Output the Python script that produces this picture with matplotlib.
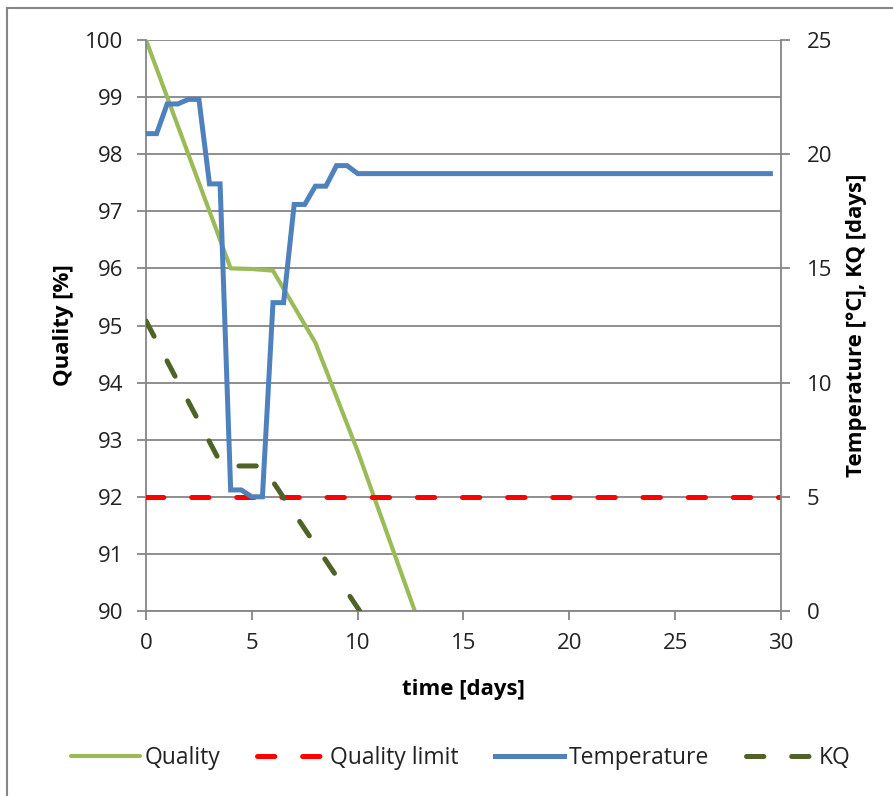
import matplotlib
matplotlib.use("Agg")
import matplotlib.pyplot as plt
from matplotlib.lines import Line2D

plt.rcParams['font.family'] = ['Open Sans', 'DejaVu Sans']
plt.rcParams['lines.scale_dashes'] = False

# ---- data ----
quality_days = [0, 1, 2, 3, 4, 5, 6, 8, 10, 12.7]
quality_vals = [100, 99, 98, 97, 96.0, 95.99, 95.96, 94.7, 92.8, 90.0]

limit_days = [0, 30]
limit_vals = [92, 92]

temp_days = [0, 0.5, 1, 1.5, 2, 2.5, 3, 3.5, 4, 4.5, 5, 5.5, 6, 6.5, 7, 7.5,
             8, 8.5, 9, 9.5, 10, 29.5]
temp_vals = [20.9, 20.9, 22.2, 22.2, 22.4, 22.4, 18.7, 18.7, 5.3, 5.3, 5.0, 5.0,
             13.5, 13.5, 17.8, 17.8, 18.6, 18.6, 19.5, 19.5, 19.15, 19.15]

kq_days = [0, 3.6, 4, 5.5, 10.1]
kq_vals = [12.7, 6.35, 6.35, 6.35, 0.0]

x_ticks = [0, 5, 10, 15, 20, 25, 30]
left_ticks = [90, 91, 92, 93, 94, 95, 96, 97, 98, 99, 100]
right_ticks = [0, 5, 10, 15, 20, 25]

# ---- styles ----
GRAY = '#868686'
GREEN = '#9BBB59'
RED = '#FF0000'
BLUE = '#4F81BD'
OLIVE = '#4F6228'

fig = plt.figure(figsize=(8.93, 7.96), dpi=100)
ax = fig.add_axes([146/893, 1-611/796, (781-146)/893, (611-40)/796])
ax2 = ax.twinx()

ax.set_xlim(0, 30)
ax.set_ylim(90, 100)
ax2.set_ylim(0, 25)

ax.set_yticks(left_ticks)
ax.set_xticks(x_ticks)
ax2.set_yticks(right_ticks)

ax.yaxis.grid(True, color=GRAY, linewidth=1.3)
ax.set_axisbelow(True)

for a in (ax, ax2):
    for s in a.spines.values():
        s.set_color(GRAY)
        s.set_linewidth(1.3)
    a.spines['top'].set_visible(False)
ax.spines['right'].set_visible(False)
ax2.spines['left'].set_visible(False)
ax2.spines['bottom'].set_visible(False)

ax.tick_params(axis='both', direction='out', length=6.5, width=1.3, color=GRAY,
               labelsize=16, labelcolor='#222222')
ax.tick_params(axis='y', pad=10)
ax.tick_params(axis='x', pad=9)
ax2.tick_params(axis='y', direction='out', length=6.5, width=1.3, color=GRAY,
                labelsize=16, labelcolor='#222222', pad=12)

dash = (0, (12.5, 20))
l_q, = ax.plot(quality_days, quality_vals, color=GREEN, lw=3.0,
               solid_capstyle='round', clip_on=True, label='Quality')
l_lim, = ax.plot(limit_days, limit_vals, color=RED, lw=3.6, linestyle=dash,
                 dash_capstyle='round', label='Quality limit', zorder=3)
l_t, = ax2.plot(temp_days, temp_vals, color=BLUE, lw=3.6,
                solid_joinstyle='miter', label='Temperature')
l_kq, = ax2.plot(kq_days, kq_vals, color=OLIVE, lw=3.6, linestyle=dash,
                 dash_capstyle='round', label='KQ')

ax.set_xlabel('time [days]', fontsize=16, fontweight='bold', labelpad=18)
ax.set_ylabel('Quality [%]', fontsize=16, fontweight='bold', labelpad=8)
ax2.set_ylabel('Temperature [°C], KQ [days]', fontsize=16, fontweight='bold',
               labelpad=10)

leg = fig.legend(handles=[l_q, l_lim, l_t, l_kq], loc='center',
                 bbox_to_anchor=(0.516, 1-758/796), ncol=4, frameon=False,
                 fontsize=16.5, handlelength=3.0, handletextpad=0.2,
                 columnspacing=1.6)
for t in leg.get_texts():
    t.set_color('#222222')

# figure border
fig.add_artist(Line2D([7/893, 7/893], [0, 1-8/796], color=GRAY, lw=1.5,
                      transform=fig.transFigure))
fig.add_artist(Line2D([7/893, 1], [1-8/796, 1-8/796], color=GRAY, lw=1.5,
                      transform=fig.transFigure))

fig.savefig('out.png', dpi=100)
